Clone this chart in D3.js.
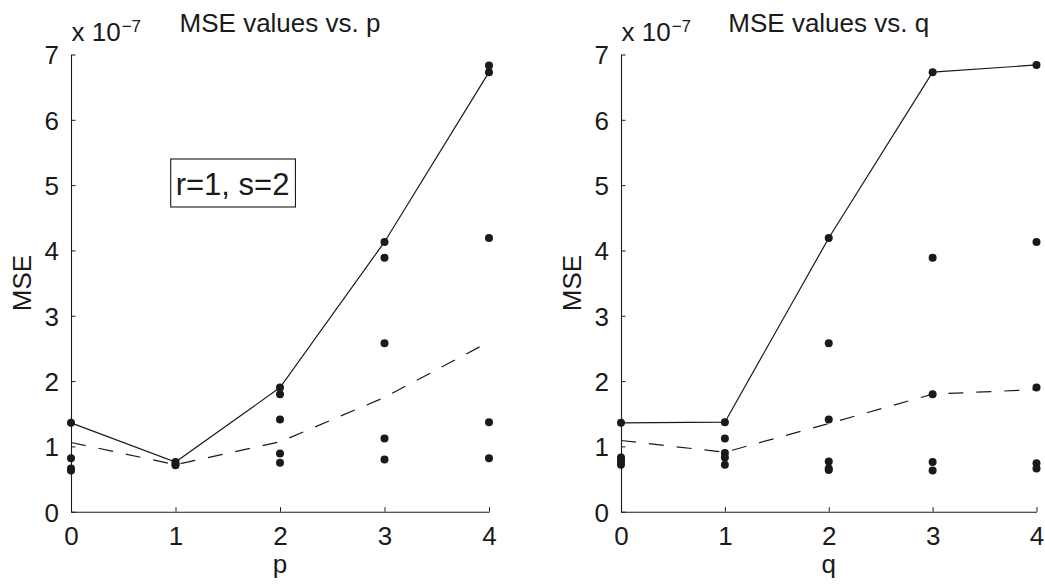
<!DOCTYPE html>
<html>
<head>
<meta charset="utf-8">
<script src="https://cdn.jsdelivr.net/npm/d3@7/dist/d3.min.js"></script>
<style>
  html, body { margin: 0; padding: 0; background: #fff; }
  svg { display: block; }
  text { font-family: "Liberation Sans", Arial, Helvetica, sans-serif; fill: #1a1a1a; }
</style>
</head>
<body>
<script>
// ---------- data ----------
const xTicks = [0, 1, 2, 3, 4];
const yTicks = [0, 1, 2, 3, 4, 5, 6, 7];
const titles = ["MSE values vs. p", "MSE values vs. q"];
const xLabels = ["p", "q"];
const yLabel = "MSE";
const annotationText = "r=1, s=2";

// MSE values (x 10^-7)
const pSolid  = [1.36, 0.76, 1.90, 4.13, 6.73];
const pDashed = [1.06, 0.72, 1.07, 1.75, 2.60];
const pPoints = [
  [1.36, 0.82, 0.66, 0.63],
  [0.76, 0.73, 0.71],
  [1.90, 1.80, 1.41, 0.89, 0.75],
  [4.13, 3.89, 2.58, 1.12, 0.80],
  [6.83, 6.73, 4.19, 1.37, 0.82]
];

const qSolid  = [1.36, 1.37, 4.19, 6.73, 6.84];
const qDashed = [1.09, 0.91, 1.35, 1.80, 1.87];
const qPoints = [
  [1.36, 0.83, 0.79, 0.76, 0.72],
  [1.37, 1.12, 0.90, 0.83, 0.72],
  [4.19, 2.58, 1.41, 0.77, 0.66, 0.64],
  [6.73, 3.89, 1.80, 0.76, 0.63],
  [6.84, 4.13, 1.90, 0.74, 0.66]
];

// ---------- layout ----------
const W = 1045, H = 584;
const FS = 26;
const plotTop = 54.5, plotBottom = 511.7;
const panels = [
  { left: 71,  right: 489,  title: titles[0], xlab: xLabels[0], solid: pSolid, dashed: pDashed, points: pPoints, note: true },
  { left: 621, right: 1036.5, title: titles[1], xlab: xLabels[1], solid: qSolid, dashed: qDashed, points: qPoints, note: false }
];

const svg = d3.select("body").append("svg").attr("width", W).attr("height", H);
const ink = "#1a1a1a";

panels.forEach(P => {
  const x = d3.scaleLinear().domain([0, 4]).range([P.left, P.right]);
  const y = d3.scaleLinear().domain([0, 7]).range([plotBottom, plotTop]);
  const g = svg.append("g");

  // axes (box off, ticks inward)
  const xAxis = d3.axisBottom(x).tickValues(xTicks).tickFormat(d3.format("d")).tickSizeInner(-4.5).tickSizeOuter(0).tickPadding(15);
  const yAxis = d3.axisLeft(y).tickValues(yTicks).tickFormat(d3.format("d")).tickSizeInner(-4.5).tickSizeOuter(0).tickPadding(12);

  const gx = g.append("g").attr("transform", `translate(0,${plotBottom})`).call(xAxis);
  const gy = g.append("g").attr("transform", `translate(${P.left},0)`).call(yAxis);
  [gx, gy].forEach(a => {
    a.select(".domain").attr("stroke", ink).attr("stroke-width", 1.1);
    a.selectAll(".tick line").attr("stroke", ink).attr("stroke-width", 1);
    a.selectAll(".tick text").attr("font-size", FS).attr("fill", ink)
      .attr("font-family", '"Liberation Sans", Arial, Helvetica, sans-serif');
  });
  gx.selectAll(".tick text").attr("dy", "0.71em");
  gy.selectAll(".tick text").attr("dy", "0.36em");

  // exponent label
  const ex = g.append("text").attr("x", P.left + 0.5).attr("y", 41).attr("font-size", FS);
  ex.append("tspan").text("x 10");
  ex.append("tspan").attr("font-size", 17).attr("dy", -9).attr("dx", 1).text("\u22127");

  // title
  g.append("text").attr("x", (P.left + P.right) / 2).attr("y", 32)
    .attr("text-anchor", "middle").attr("font-size", FS).text(P.title);

  // axis labels
  g.append("text").attr("x", (P.left + P.right) / 2).attr("y", 573)
    .attr("text-anchor", "middle").attr("font-size", FS).text(P.xlab);
  g.append("text")
    .attr("transform", `translate(${P.left - 40},${(plotTop + plotBottom) / 2}) rotate(-90)`)
    .attr("text-anchor", "middle").attr("font-size", FS).text(yLabel);

  // lines
  const line = d3.line().x((d, i) => x(xTicks[i])).y(d => y(d));
  g.append("path").datum(P.solid).attr("d", line)
    .attr("fill", "none").attr("stroke", ink).attr("stroke-width", 1.2);
  g.append("path").datum(P.dashed).attr("d", line)
    .attr("fill", "none").attr("stroke", ink).attr("stroke-width", 1.2)
    .attr("stroke-dasharray", "15,13");

  // points
  const pts = [];
  P.points.forEach((arr, i) => arr.forEach(v => pts.push({ x: xTicks[i], v })));
  g.selectAll("circle.pt").data(pts).enter().append("circle")
    .attr("class", "pt")
    .attr("cx", d => x(d.x)).attr("cy", d => y(d.v)).attr("r", 4)
    .attr("fill", ink);

  // annotation box
  if (P.note) {
    const bx0 = x(0.954), by0 = y(5.40);
    const note = g.append("g");
    const rect = note.append("rect")
      .attr("x", bx0).attr("y", by0).attr("height", 48)
      .attr("fill", "#fff").attr("stroke", ink).attr("stroke-width", 1.1);
    const t = note.append("text").attr("x", bx0 + 5).attr("y", by0 + 36)
      .attr("font-size", 31).text(annotationText);
    rect.attr("width", t.node().getComputedTextLength() + 11);
  }
});
</script>
</body>
</html>
